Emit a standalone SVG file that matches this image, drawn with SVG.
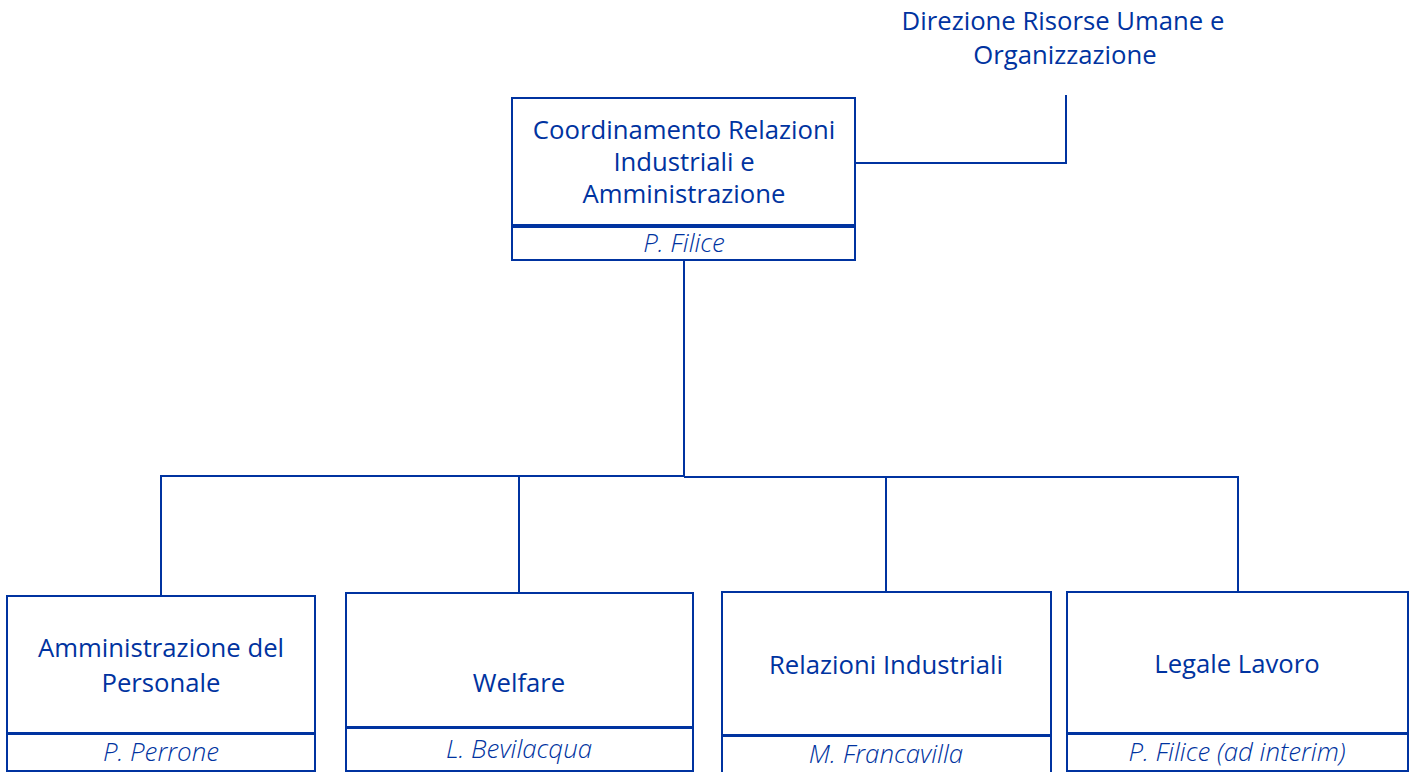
<svg xmlns="http://www.w3.org/2000/svg" width="1412" height="772" viewBox="0 0 1412 772">
<style>
.box{fill:#fff;stroke:#0033a0;stroke-width:2}
.t{font-family:"Open Sans","Liberation Sans",sans-serif;font-size:25.7px;fill:#0033a0;text-anchor:middle}
.n{font-family:"Open Sans","Liberation Sans",sans-serif;font-size:25.9px;font-style:italic;font-weight:300;fill:#0033a0;text-anchor:middle}
.c{fill:none;stroke:#0033a0;stroke-width:2}
</style>
<rect width="1412" height="772" fill="#fff"/>
<g id="connectors">
<polyline class="c" points="856,163 1066,163 1066,95"/>
<line class="c" x1="684" y1="260" x2="684" y2="477"/>
<polyline class="c" points="161,596 161,476 684,476"/>
<line class="c" x1="519" y1="476" x2="519" y2="592"/>
<polyline class="c" points="684,477 1238,477 1238,591"/>
<line class="c" x1="886" y1="477" x2="886" y2="591"/>
</g>
<g id="direzione">
<text class="t" x="1063" y="30">Direzione Risorse Umane e</text>
<text class="t" x="1065" y="64">Organizzazione</text>
</g>
<g id="coordinamento">
<rect class="box" x="512" y="98" width="343" height="127"/>
<rect class="box" x="512" y="227" width="343" height="33"/>
<text class="t" x="684" y="139">Coordinamento Relazioni</text>
<text class="t" x="684" y="171">Industriali e</text>
<text class="t" x="684" y="203">Amministrazione</text>
<text class="n" x="684" y="252">P. Filice</text>
</g>
<g id="amministrazione">
<rect class="box" x="7" y="596" width="308" height="137"/>
<rect class="box" x="7" y="734" width="308" height="37"/>
<text class="t" x="161" y="657">Amministrazione del</text>
<text class="t" x="161" y="692">Personale</text>
<text class="n" x="161" y="761">P. Perrone</text>
</g>
<g id="welfare">
<rect class="box" x="346" y="593" width="347" height="134"/>
<rect class="box" x="346" y="728" width="347" height="43"/>
<text class="t" x="519" y="692">Welfare</text>
<text class="n" x="519" y="758">L. Bevilacqua</text>
</g>
<g id="relazioni">
<rect class="box" x="722" y="592" width="329" height="143"/>
<rect class="box" x="722" y="736" width="329" height="40"/>
<text class="t" x="886" y="674">Relazioni Industriali</text>
<text class="n" x="886" y="763">M. Francavilla</text>
</g>
<g id="legale">
<rect class="box" x="1067" y="592" width="341" height="141"/>
<rect class="box" x="1067" y="734" width="341" height="37"/>
<text class="t" x="1237" y="673">Legale Lavoro</text>
<text class="n" x="1237" y="761">P. Filice (ad interim)</text>
</g>
</svg>
